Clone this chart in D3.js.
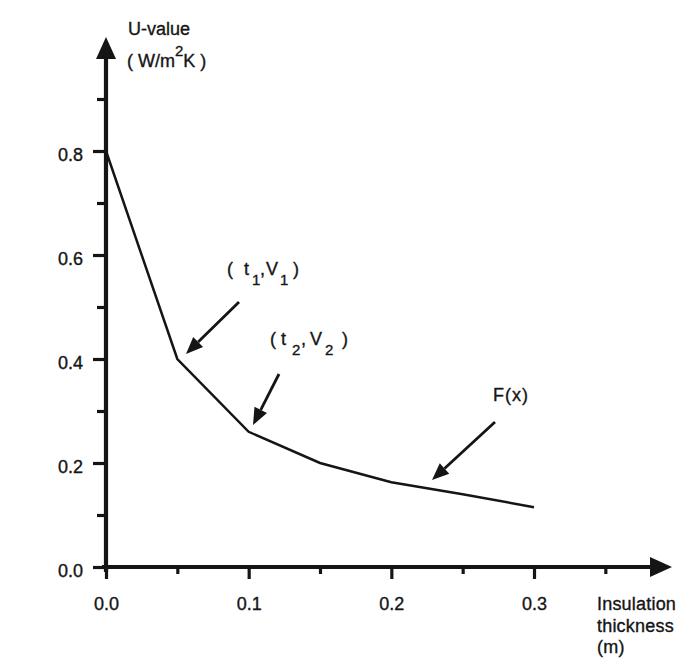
<!DOCTYPE html>
<html><head><meta charset="utf-8">
<script src="https://cdn.jsdelivr.net/npm/d3@7"></script>
<style>
html,body{margin:0;padding:0;background:#fff;}
svg{display:block;}
text{font-family:"Liberation Sans",Arial,Helvetica,sans-serif;fill:#151515;stroke:#151515;stroke-width:0.35px;}
</style></head>
<body>
<svg id="chart" width="685" height="660"></svg>
<script>
// Data
const thickness = [0, 0.05, 0.1, 0.15, 0.2, 0.25, 0.3];
const uValue    = [0.8, 0.4, 0.26, 0.2, 0.163, 0.14, 0.115];
const xMajorTicks = [0.0, 0.1, 0.2, 0.3];
const xMinorTicks = [0.05, 0.15, 0.25, 0.35];
const yMajorTicks = [0.0, 0.2, 0.4, 0.6, 0.8];
const yMinorTicks = [0.1, 0.3, 0.5, 0.7, 0.9];
const xLabelLines = ["Insulation", "thickness", "(m)"];
const yLabelLines = ["U-value"];

const svg = d3.select("#chart");
const x = d3.scaleLinear().domain([0, 0.3]).range([106, 534]);
const y = d3.scaleLinear().domain([0, 0.8]).range([567, 151]);
const ink = "#151515";
const FS = 18;

// axes ticks via d3 axes
const gxMinor = svg.append("g").attr("transform", `translate(0,${y(0)})`)
  .call(d3.axisBottom(x).tickValues(xMinorTicks).tickSize(7).tickFormat(""));
const gxMajor = svg.append("g").attr("transform", `translate(0,${y(0)})`)
  .call(d3.axisBottom(x).tickValues(xMajorTicks).tickSize(12).tickPadding(18).tickFormat(d3.format(".1f")));
const gyMinor = svg.append("g").attr("transform", `translate(${x(0)},0)`)
  .call(d3.axisLeft(y).tickValues(yMinorTicks).tickSize(9).tickFormat(""));
const gyMajor = svg.append("g").attr("transform", `translate(${x(0)},0)`)
  .call(d3.axisLeft(y).tickValues(yMajorTicks).tickSize(13).tickPadding(10).tickFormat(d3.format(".1f")));
[gxMinor, gxMajor, gyMinor, gyMajor].forEach(g => {
  g.select(".domain").remove();
  g.selectAll(".tick line").attr("stroke", ink).attr("stroke-width", 3.2);
  g.selectAll(".tick text").attr("font-size", FS).attr("fill", ink)
    .style("font-family", '"Liberation Sans", Arial, sans-serif');
});
gxMajor.selectAll(".tick text").attr("dy", "0.71em");
gyMajor.selectAll(".tick text").attr("dy", "0.5em");

// axis lines
svg.append("line").attr("x1", x(0)).attr("x2", x(0)).attr("y1", y(0) + 5).attr("y2", 56)
  .attr("stroke", ink).attr("stroke-width", 4.2);
svg.append("line").attr("x1", x(0) - 4).attr("x2", 652).attr("y1", y(0)).attr("y2", y(0))
  .attr("stroke", ink).attr("stroke-width", 4.2);
// arrowheads
svg.append("path").attr("d", `M${x(0)},37 L${x(0) - 10},59 L${x(0) + 10},59 Z`).attr("fill", ink);
svg.append("path").attr("d", `M672,${y(0)} L650,${y(0) - 10} L650,${y(0) + 10} Z`).attr("fill", ink);

// curve
const line = d3.line().x((d, i) => x(thickness[i])).y(d => y(d));
svg.append("path").datum(uValue).attr("d", line)
  .attr("fill", "none").attr("stroke", ink).attr("stroke-width", 2.5).attr("stroke-linejoin", "miter");

// axis labels
svg.append("text").attr("x", 128).attr("y", 35).attr("font-size", FS).text(yLabelLines[0]);
const unit = svg.append("text").attr("x", 127).attr("y", 67).attr("font-size", FS);
unit.append("tspan").text("( W/m");
unit.append("tspan").attr("font-size", 15).attr("dy", -11).text("2");
unit.append("tspan").attr("dy", 11).text("K )");

xLabelLines.forEach((t, i) => {
  svg.append("text").attr("x", 597).attr("y", 610 + i * 21.5).attr("font-size", FS).attr("letter-spacing", 0.2).text(t);
});

// annotations
function pointLabel(x0, yb, sub, gaps) {
  const g = svg.append("g");
  const parts = [
    {t: "(", x: x0, s: false},
    {t: "t", x: x0 + gaps[0], s: false},
    {t: sub, x: x0 + gaps[1], s: true},
    {t: ",", x: x0 + gaps[2], s: false},
    {t: "V", x: x0 + gaps[3], s: false},
    {t: sub, x: x0 + gaps[4], s: true},
    {t: ")", x: x0 + gaps[5], s: false}
  ];
  parts.forEach(p => {
    g.append("text").attr("x", p.x).attr("y", p.s ? yb + 10 : yb)
      .attr("font-size", p.s ? 15 : FS).text(p.t);
  });
}
pointLabel(227, 275, "1", [17, 25, 33, 39, 53, 66]);
pointLabel(270, 345, "2", [11, 22, 31, 40, 55, 72]);
svg.append("text").attr("x", 493).attr("y", 401).attr("font-size", FS).attr("letter-spacing", 1).text("F(x)");

function arrow(x1, y1, x2, y2) {
  const a = Math.atan2(y2 - y1, x2 - x1), L = 17, W = 7;
  const bx = x2 - L * Math.cos(a), by = y2 - L * Math.sin(a);
  svg.append("line").attr("x1", x1).attr("y1", y1).attr("x2", bx).attr("y2", by)
    .attr("stroke", ink).attr("stroke-width", 2.8);
  const px = -Math.sin(a) * W, py = Math.cos(a) * W;
  svg.append("path").attr("d", `M${x2},${y2} L${bx + px},${by + py} L${bx - px},${by - py} Z`).attr("fill", ink);
}
arrow(239, 302, 186, 354);
arrow(279, 374, 253, 425);
arrow(495, 422, 432, 480);
</script>
</body></html>
